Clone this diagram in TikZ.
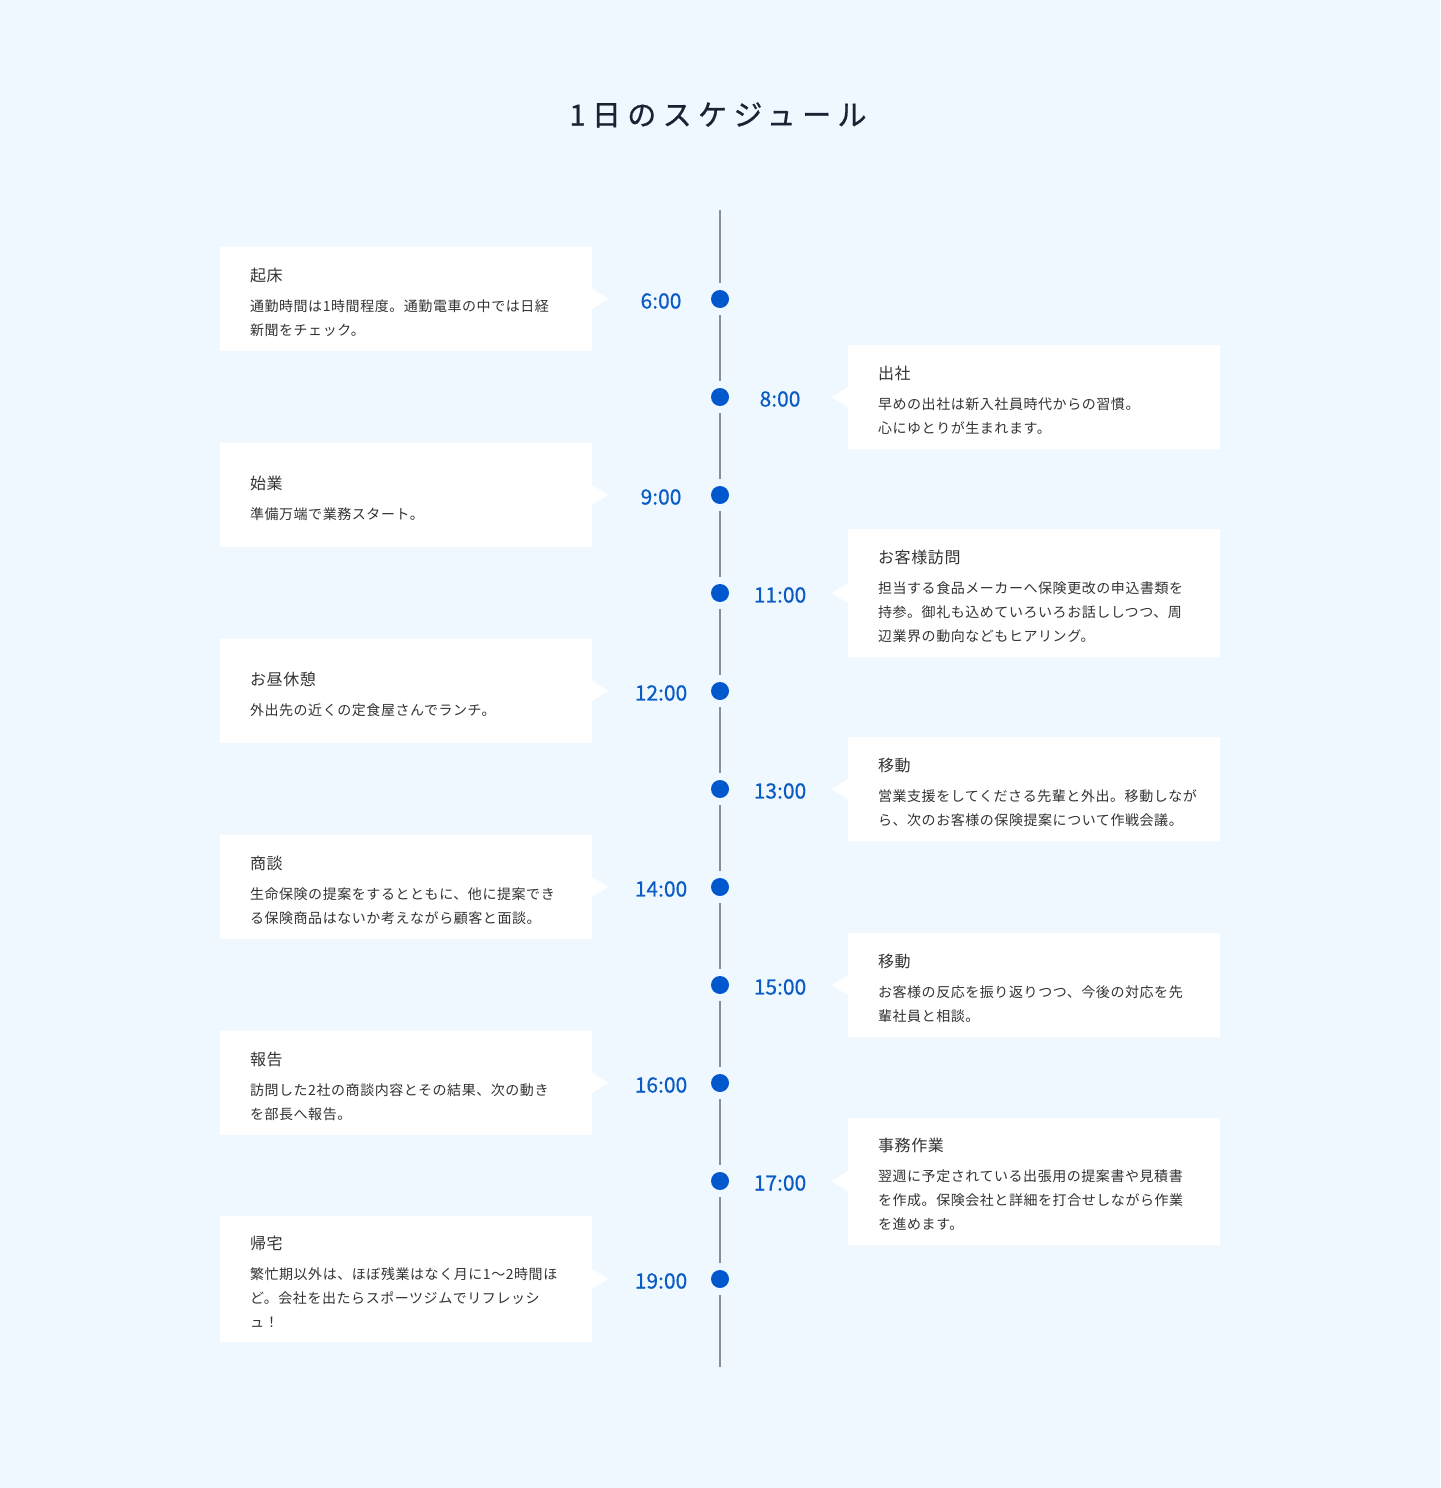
\documentclass[tikz,border=0pt]{standalone}
\usepackage{fontspec}
\setmainfont{Noto Sans CJK JP}
\newfontfamily\bodyfont{Noto Sans CJK JP}[LetterSpace=4]
\newfontfamily\titlefont{Noto Sans CJK JP}[LetterSpace=22,FakeBold=0.8]
\newfontfamily\timefont{Noto Sans CJK JP}[FakeBold=0.6]
\definecolor{bgc}{HTML}{F0F8FF}
\definecolor{dotc}{HTML}{0058CC}
\definecolor{timec}{HTML}{0A5BC4}
\definecolor{linec}{HTML}{8A8F94}
\definecolor{txtc}{HTML}{333333}
\definecolor{titlec}{HTML}{1B2233}
\newcommand{\cardhd}[1]{{\fontsize{16}{24}\selectfont\rule{0pt}{20pt}#1}}
\tikzset{
  card/.style={rectangle, fill=white, text width=312pt, inner xsep=30pt, inner ysep=14pt,
    minimum height=104pt, align=left, text=txtc, font=\bodyfont\fontsize{14}{24}\selectfont},
  tdot/.style={circle, fill=dotc, minimum size=18pt, inner sep=0pt, outer sep=7pt},
  tline/.style={draw=linec, line width=2pt},
  tlabel/.style={text=timec, font=\timefont\fontsize{21}{24}\selectfont, inner sep=0pt},
  ptr/.style={fill=white}
}
\begin{document}
\begin{tikzpicture}[x=1pt,y=-1pt]
\fill[bgc] (0,0) rectangle (1440,1488);
\useasboundingbox (0,0) rectangle (1440,1488);
\node[text=titlec, font=\titlefont\fontsize{29}{34}\selectfont] (title) at (718,115) {1日のスケジュール};

\coordinate (top) at (720,210);
\coordinate (bot) at (720,1367);
\foreach \i/\y in {1/299,2/397,3/495,4/593,5/691,6/789,7/887,8/985,9/1083,10/1181,11/1279}
  \node[tdot] (d\i) at (720,\y) {};
\draw[tline] (top) -- (d1);
\foreach \a/\b in {1/2,2/3,3/4,4/5,5/6,6/7,7/8,8/9,9/10,10/11}
  \draw[tline] (d\a) -- (d\b);
\draw[tline] (d11) -- (bot);

% time labels
\node[tlabel] (t1) at (661,301) {6:00};
\node[tlabel] (t2) at (780,399) {8:00};
\node[tlabel] (t3) at (661,497) {9:00};
\node[tlabel] (t4) at (780,595) {11:00};
\node[tlabel] (t5) at (661,693) {12:00};
\node[tlabel] (t6) at (780,791) {13:00};
\node[tlabel] (t7) at (661,889) {14:00};
\node[tlabel] (t8) at (780,987) {15:00};
\node[tlabel] (t9) at (661,1085) {16:00};
\node[tlabel] (t10) at (780,1183) {17:00};
\node[tlabel] (t11) at (661,1281) {19:00};

% cards
\node[card] (c1) at (406,299) {\cardhd{起床}\\[6pt]通勤時間は1時間程度。通勤電車の中では日経\\新聞をチェック。};
\node[card] (c2) at (1034,397) {\cardhd{出社}\\[6pt]早めの出社は新入社員時代からの習慣。\\心にゆとりが生まれます。};
\node[card] (c3) at (406,495) {\cardhd{始業}\\[6pt]準備万端で業務スタート。};
\node[card] (c4) at (1034,593) {\cardhd{お客様訪問}\\[6pt]担当する食品メーカーへ保険更改の申込書類を\\持参。御礼も込めていろいろお話ししつつ、周\\辺業界の動向などもヒアリング。};
\node[card] (c5) at (406,691) {\cardhd{お昼休憩}\\[6pt]外出先の近くの定食屋さんでランチ。};
\node[card] (c6) at (1034,789) {\cardhd{移動}\\[6pt]営業支援をしてくださる先輩と外出。移動しなが\\ら、次のお客様の保険提案について作戦会議。};
\node[card] (c7) at (406,887) {\cardhd{商談}\\[6pt]生命保険の提案をするとともに、他に提案でき\\る保険商品はないか考えながら顧客と面談。};
\node[card] (c8) at (1034,985) {\cardhd{移動}\\[6pt]お客様の反応を振り返りつつ、今後の対応を先\\輩社員と相談。};
\node[card] (c9) at (406,1083) {\cardhd{報告}\\[6pt]訪問した2社の商談内容とその結果、次の動き\\を部長へ報告。};
\node[card] (c10) at (1034,1181) {\cardhd{事務作業}\\[6pt]翌週に予定されている出張用の提案書や見積書\\を作成。保険会社と詳細を打合せしながら作業\\を進めます。};
\node[card] (c11) at (406,1279) {\cardhd{帰宅}\\[6pt]繁忙期以外は、ほぼ残業はなく月に1〜2時間ほ\\ど。会社を出たらスポーツジムでリフレッシ\\ュ！};

% pointers
\foreach \c in {c1,c3,c5,c7,c9,c11}
  \fill[ptr] (\c.east) ++(0,-10) -- ++(16,10) -- ++(-16,10) -- cycle;
\foreach \c in {c2,c4,c6,c8,c10}
  \fill[ptr] (\c.west) ++(0,-10) -- ++(-16,10) -- ++(16,10) -- cycle;
\end{tikzpicture}
\end{document}
